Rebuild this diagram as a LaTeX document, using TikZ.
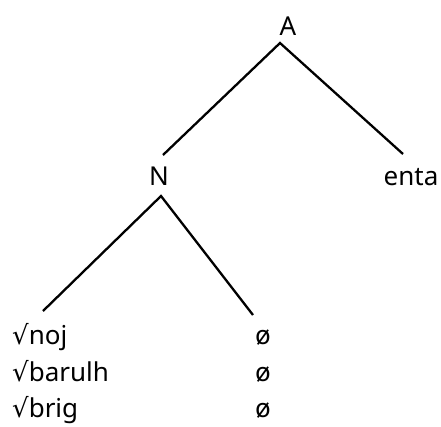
\documentclass[tikz,border=0pt]{standalone}
\usepackage{fontspec}
\setmainfont{Noto Sans}
\newfontfamily\symfont{DejaVu Sans}
\begin{document}
\begin{tikzpicture}[x=1pt,y=-1pt,
  lbl/.style={inner sep=0pt, font=\fontsize{26}{30}\selectfont},
  edge/.style={line width=2.3pt}]
\useasboundingbox (0,0) rectangle (441,426);
% tree labels, placed on their baselines
\node[lbl, anchor=base] (A) at (288,35) {A};
\node[lbl, anchor=base] (N) at (159,185) {N};
\node[lbl, anchor=base] (enta) at (411,185) {enta};
\node[lbl, anchor=base west] (noj) at (12,344) {{\symfont √}noj};
\node[lbl, anchor=base west] (barulh) at (12,381) {{\symfont √}barulh};
\node[lbl, anchor=base west] (brig) at (12,417) {{\symfont √}brig};
\node[lbl, anchor=base] (z1) at (263,344) {ø};
\node[lbl, anchor=base] (z2) at (263,381) {ø};
\node[lbl, anchor=base] (z3) at (263,417) {ø};
% branch end points
\coordinate (Atop) at (280,43);
\coordinate (Nl) at (163,155);
\coordinate (Er) at (403,154);
\coordinate (Nbot) at (161,196);
\coordinate (Ll) at (43,311);
\coordinate (Rr) at (253,315);
\draw[edge] (Nl) -- (Atop) -- (Er);
\draw[edge] (Ll) -- (Nbot) -- (Rr);
\end{tikzpicture}
\end{document}
